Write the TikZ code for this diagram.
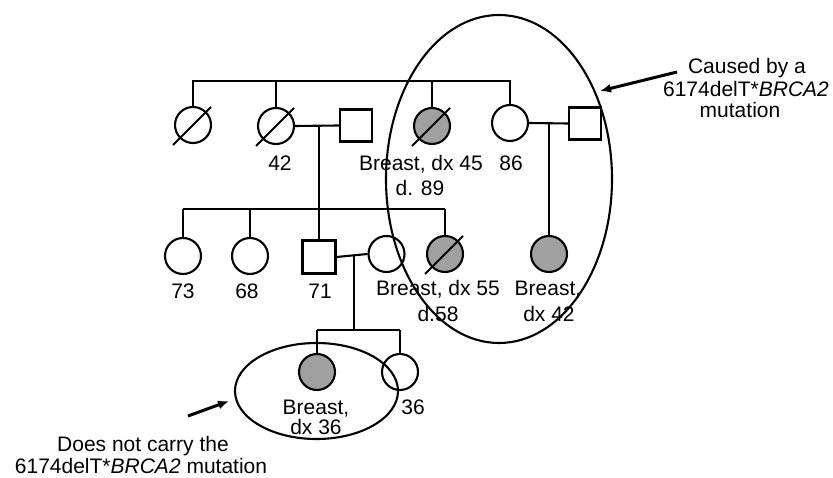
\documentclass[tikz,border=0pt]{standalone}
\usepackage{fontspec}
\setmainfont{Liberation Sans}
\usetikzlibrary{arrows.meta,calc,shapes.geometric}
\definecolor{shade}{RGB}{160,160,160}
\begin{document}
\begin{tikzpicture}[x=1pt,y=-1pt,line width=2.1pt,
  fem/.style={circle,draw,minimum size=36pt,inner sep=0pt,fill=white},
  mal/.style={rectangle,draw,minimum size=32pt,inner sep=0pt,fill=white},
  aff/.style={fill=shade},
  lbl/.style={anchor=base,inner sep=0pt,font=\fontsize{21}{22}\selectfont},
  note/.style={line width=3pt,-{Latex[length=11pt,width=9pt]}},
  ring/.style={line width=2.1pt}]
\useasboundingbox (0,0) rectangle (833,478);

% generation I
\coordinate (t1) at (192,81);
\coordinate (t4) at (511,81);
\node[fem] (a1) at (193,125) {};
\node[fem] (a2) at (276,126) {};
\node[mal] (a3) at (356,125.5) {};
\node[fem,aff] (a4) at (432,126) {};
\node[fem] (a5) at (510,123) {};
\node[mal] (a6) at (585,123.5) {};
\draw (t1) -- (t4);
\foreach \n in {a1,a2,a4,a5} \draw (\n.north) -- (\n.north |- t1);
\foreach \n in {a1,a2,a4}
  \draw ([shift={(-20,20)}]\n.center) -- ([shift={(18,-18)}]\n.center);
\draw (a2.east) -- (a3.west);
\draw (a5.east) -- (a6.west);
\coordinate (m1) at (319,126);
\coordinate (m2) at (549,122);

% generation II
\coordinate (u1) at (183,209);
\coordinate (u4) at (445,209);
\node[fem] (b1) at (183,256) {};
\node[fem] (b2) at (250,256) {};
\node[mal,minimum size=33pt] (b3) at (319,257) {};
\node[fem] (b4) at (386.5,254) {};
\node[fem,aff] (b5) at (445,254) {};
\node[fem,aff] (b6) at (549,254) {};
\draw (u1) -- (u4);
\draw (m1) -- (m1 |- u1);
\foreach \n in {b1,b2,b3,b5} \draw (\n.north) -- (\n.north |- u1);
\draw ([shift={(-20,20)}]b5.center) -- ([shift={(18,-18)}]b5.center);
\draw (b3.east) -- (b4.west);
\draw (m2) -- (b6.north);
\coordinate (m3) at (354,255);

% generation III
\coordinate (v1) at (317,330);
\coordinate (v2) at (400,330);
\node[fem,aff] (c1) at (317,372) {};
\node[fem] (c2) at (400,372) {};
\draw (v1) -- (v2);
\draw (m3) -- (m3 |- v1);
\foreach \n in {c1,c2} \draw (\n.north) -- (\n.north |- v1);

% labels
\node[lbl] (l42) at (280,170.5) {42};
\node[lbl] (l45) at (421,170.5) {Breast, dx 45};
\node[lbl] (l89) at (420,196) {d. 89};
\node[lbl] (l86) at (511,170.5) {86};
\node[lbl] (l73) at (183,299) {73};
\node[lbl] (l68) at (247,299) {68};
\node[lbl] (l71) at (320,299) {71};
\node[lbl] (l55) at (438,296) {Breast, dx 55};
\node[lbl] (l58) at (438,321.5) {d.58};
\node[lbl] (lb42) at (548,296) {Breast,};
\node[lbl] (l42b) at (549,321.5) {dx 42};
\node[lbl] (lb36) at (316,414) {Breast,};
\node[lbl] (l36b) at (316,434) {dx 36};
\node[lbl] (l36) at (413,414) {36};

% ellipses
\node[draw,ring,ellipse,minimum width=226pt,minimum height=328pt,inner sep=0pt] (e1) at (499,179) {};
\node[draw,ring,ellipse,minimum width=163pt,minimum height=96pt,inner sep=0pt] (e2) at (316.5,391) {};

% notes
\node[lbl] (n1) at (747,74) {Caused by a};
\node[lbl] (n2) at (746,96.5) {6174delT*\textit{BRCA2}};
\node[lbl] (n3) at (740,118) {mutation};
\node[lbl] (n4) at (143,451) {Does not carry the};
\node[lbl] (n5) at (141,473) {6174delT*\textit{BRCA2} mutation};
\coordinate (r1) at (677,72);
\coordinate (r2) at (188,416);
\draw[note] (r1) -- (600,91);
\draw[note] (r2) -- (229,401);
\end{tikzpicture}
\end{document}
